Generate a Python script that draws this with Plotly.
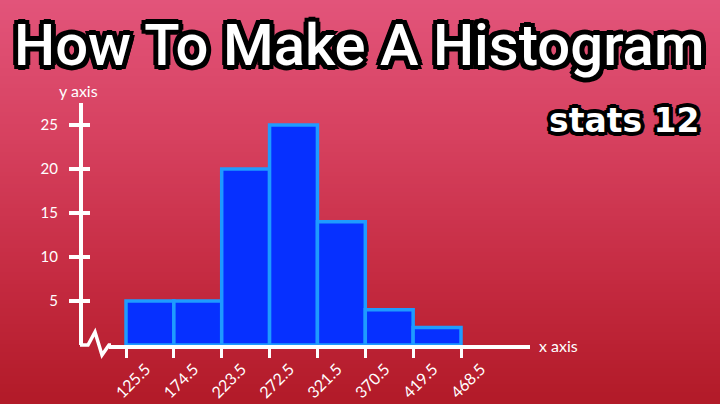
import plotly.graph_objects as go

# ---- data ----
bin_edges = [125.5, 174.5, 223.5, 272.5, 321.5, 370.5, 419.5, 468.5]
frequencies = [5, 5, 20, 25, 14, 4, 2]
y_ticks = [5, 10, 15, 20, 25]
title_text = "How To Make A Histogram"
subtitle_text = "stats 12"

centers = [(a + b) / 2 for a, b in zip(bin_edges[:-1], bin_edges[1:])]
widths = [b - a for a, b in zip(bin_edges[:-1], bin_edges[1:])]

W, H = 720, 404
def px(x):
    return x / W
def py(y):
    return 1 - y / H

# pixel geometry
x_left_px, x_right_px = 109, 530
yaxis_px = 80
y_top_px, y_bot_px = 103, 345
upx = (bin_edges[-1] - bin_edges[0]) / (461 - 126)
xr0 = bin_edges[0] - (126 - x_left_px) * upx
xr1 = bin_edges[-1] + (x_right_px - 461) * upx
yr1 = (y_bot_px - y_top_px) / 8.8

fig = go.Figure()
fig.add_trace(go.Bar(
    x=centers, y=frequencies, width=widths,
    marker=dict(color="#0630ff", line=dict(color="#1e9bff", width=3.5)),
    hoverinfo="x+y", showlegend=False,
))
# invisible trace to activate y2
fig.add_trace(go.Scatter(x=[centers[0]], y=[0], yaxis="y2", mode="markers",
                         marker=dict(opacity=0), showlegend=False, hoverinfo="skip"))

shapes = []
# background gradient
stops = [(0, (226, 84, 122)), (0.35, (214, 64, 94)), (0.7, (196, 42, 64)), (1.0, (178, 26, 40))]
N = 101
for i in range(N):
    t = i / (N - 1)
    for j in range(len(stops) - 1):
        if stops[j][0] <= t <= stops[j + 1][0]:
            f = (t - stops[j][0]) / (stops[j + 1][0] - stops[j][0])
            c = [round(stops[j][1][k] + f * (stops[j + 1][1][k] - stops[j][1][k])) for k in range(3)]
            break
    shapes.append(dict(type="rect", xref="paper", yref="paper", x0=0, x1=1,
                       y0=1 - (i + 1) / N - 0.002, y1=1 - i / N,
                       fillcolor="rgb(%d,%d,%d)" % tuple(c), line=dict(width=0), layer="below"))
# axis corner + zigzag break
pts = [(yaxis_px, 345), (88, 345), (95, 332), (102, 355), (109, 345), (x_left_px + 2, 345)]
path = "M " + " L ".join("%f,%f" % (px(x), py(y)) for x, y in pts)
shapes.append(dict(type="path", xref="paper", yref="paper", path=path,
                   line=dict(color="white", width=3.5), layer="above"))

fig.update_layout(
    width=W, height=H,
    margin=dict(l=0, r=0, t=0, b=0, autoexpand=False),
    paper_bgcolor="#c8304a", plot_bgcolor="rgba(0,0,0,0)",
    bargap=0,
    shapes=shapes,
    xaxis=dict(domain=[px(x_left_px), px(x_right_px)], range=[xr0, xr1],
               showgrid=False, zeroline=False, showline=True, linecolor="white", linewidth=3.5,
               tickvals=bin_edges, ticktext=[f"{v}" for v in bin_edges],
               ticks="outside", ticklen=9, tickwidth=3, tickcolor="white",
               tickangle=-45, ticklabelshift=20, ticklabelstandoff=-4,
               tickfont=dict(family="Lato, Open Sans, sans-serif", size=16, color="white"),
               anchor="y", fixedrange=True),
    yaxis=dict(domain=[py(y_bot_px), py(y_top_px)], range=[0, yr1],
               anchor="free", position=px(yaxis_px),
               showgrid=False, zeroline=False, showline=True, linecolor="white", linewidth=3.5,
               tickvals=y_ticks, ticks="outside", ticklen=10, tickwidth=3.5, tickcolor="white",
               ticklabelstandoff=8,
               tickfont=dict(family="Lato, Open Sans, sans-serif", size=15, color="white"),
               fixedrange=True),
    yaxis2=dict(domain=[py(y_bot_px), py(y_top_px)], range=[0, yr1], overlaying="y",
                anchor="free", position=px(yaxis_px), side="left",
                showgrid=False, zeroline=False, showline=False,
                tickvals=y_ticks, ticks="inside", ticklen=9, tickwidth=3.5, tickcolor="white",
                showticklabels=False, fixedrange=True),
    annotations=[
        dict(text=title_text, xref="paper", yref="paper", x=px(359), y=py(45),
             xanchor="center", yanchor="middle", showarrow=False,
             font=dict(family="Roboto, Liberation Sans, sans-serif", weight=500,
                       size=58, color="white",
                       shadow="0 0 3px #000, 5px 0 0 #000, -5px 0 0 #000, 0 5px 0 #000, 0 -5px 0 #000, "
                              "4px 4px 0 #000, -4px 4px 0 #000, 4px -4px 0 #000, -4px -4px 0 #000")),
        dict(text=subtitle_text, xref="paper", yref="paper", x=px(624), y=py(120),
             xanchor="center", yanchor="middle", showarrow=False,
             font=dict(family="DejaVu Sans, sans-serif", size=33, weight="bold", color="white",
                       shadow="0 0 2px #000, 4px 0 0 #000, -4px 0 0 #000, 0 4px 0 #000, 0 -4px 0 #000, "
                              "3px 3px 0 #000, -3px 3px 0 #000, 3px -3px 0 #000, -3px -3px 0 #000")),
        dict(text="y axis", xref="paper", yref="paper", x=px(78), y=py(91),
             xanchor="center", yanchor="middle", showarrow=False,
             font=dict(family="Lato, Open Sans, sans-serif", size=16, color="white")),
        dict(text="x axis", xref="paper", yref="paper", x=px(537), y=py(345),
             xanchor="left", yanchor="middle", showarrow=False,
             font=dict(family="Lato, Open Sans, sans-serif", size=16, color="white")),
    ],
)

fig.write_html("out.html", config={"displayModeBar": False, "staticPlot": True},
               post_script="document.body.style.margin='0';document.body.style.overflow='hidden';")
